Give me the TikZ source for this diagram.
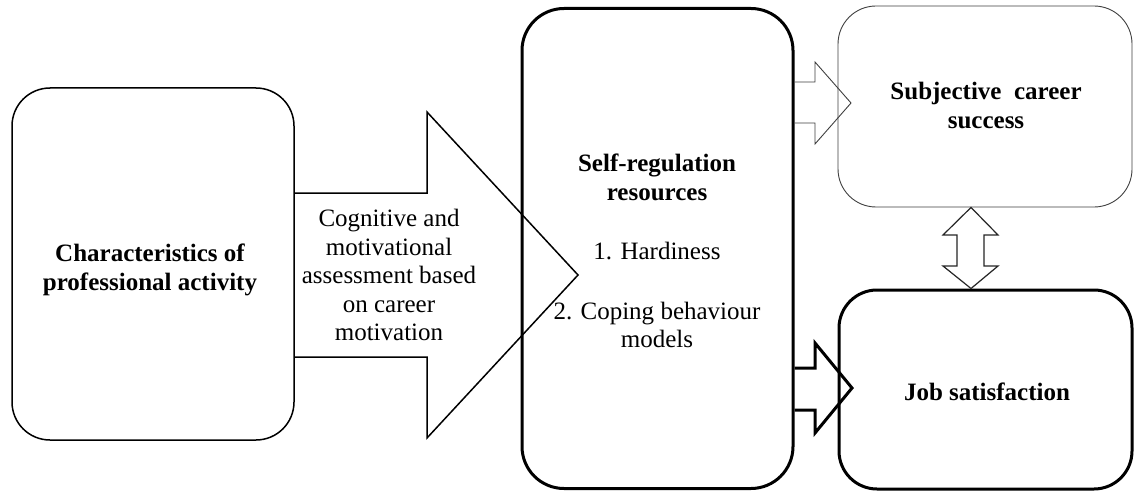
\documentclass[tikz,border=0pt]{standalone}
\usepackage{fontspec}
\setmainfont{Liberation Serif}
\usetikzlibrary{calc}
\begin{document}
\begin{tikzpicture}[x=1pt,y=-1pt,
  thinbox/.style={draw=black, line width=1.5pt, rounded corners=38pt, inner sep=0pt},
  thickbox/.style={draw=black, line width=3pt, rounded corners=40pt, inner sep=0pt},
  graybox/.style={draw=black!75, line width=0.9pt, rounded corners=38pt, inner sep=0pt},
  lbl/.style={align=center, font=\fontsize{25}{28.5}\selectfont\bfseries, inner sep=0pt},
  txt/.style={align=center, font=\fontsize{25}{28.5}\selectfont, inner sep=0pt},
  bigarrow/.style={draw=black, line width=1.5pt, line join=miter},
  grayarrow/.style={draw=black!75, line width=0.9pt, line join=miter},
  heavyarrow/.style={draw=black, line width=3pt, line join=miter},
  dblarrow/.style={draw=black!85, line width=1.2pt, line join=miter}]
\useasboundingbox (0,0) rectangle (1134,492);
\fill[white] (0,0) rectangle (1134,492);

% boxes
\node[thinbox, minimum width=282pt, minimum height=352pt] (char) at (153,264) {};
\node[thickbox, rounded corners=42pt, minimum width=271pt, minimum height=480pt] (self) at (657.5,248.5) {};
\node[graybox, minimum width=294pt, minimum height=201pt] (succ) at (985,106.5) {};
\node[thickbox, rounded corners=38pt, minimum width=293pt, minimum height=199pt] (job) at (985.5,389.5) {};

% texts
\node[lbl] (chartxt) at (150,270) {Characteristics of\\professional activity};
\node[txt] (cogtxt) at (389,275) {Cognitive and\\motivational\\assessment based\\on career\\motivation};
\node[lbl] (selftxt) at (657,177.5) {Self-regulation\\resources};
\node[txt] (item1) at (657,251.5) {1. Hardiness};
\node[txt] (item2) at (657,325) {2. Coping behaviour\\models};
\node[lbl] (succtxt) at (986,105.5) {Subjective\ \ career\\success};
\node[lbl] (jobtxt) at (987,391.5) {Job satisfaction};

% helper coordinates
\coordinate (b1) at (0,193);
\coordinate (b2) at (0,357);
\coordinate (t1) at (0,82);
\coordinate (t2) at (0,123);
\coordinate (h1) at (0,368);
\coordinate (h2) at (0,410);
\coordinate (dx) at (971,0);

% big arrow: characteristics -> self-regulation
\draw[bigarrow] (char.east |- b1) -- (427,193) -- (427,112) -- (578,275)
  -- (427,438) -- (427,357) -- (char.east |- b2);

% small arrow: self-regulation -> subjective career success
\draw[grayarrow] (self.east |- t1) -- (815,82) -- (815,62) -- (851,103)
  -- (815,144) -- (815,123) -- (self.east |- t2);

% heavy arrow: self-regulation -> job satisfaction
\draw[heavyarrow] (self.east |- h1) -- (815,368) -- (815,343) -- (852,388)
  -- (815,433) -- (815,410) -- (self.east |- h2);

% double arrow between success and job satisfaction
\draw[dblarrow] (succ.south -| dx) -- (998,235) -- (984,235) -- (984,266) -- (998,266)
  -- (job.north -| dx) -- (943,266) -- (957,266) -- (957,235) -- (943,235) -- cycle;
\end{tikzpicture}
\end{document}
